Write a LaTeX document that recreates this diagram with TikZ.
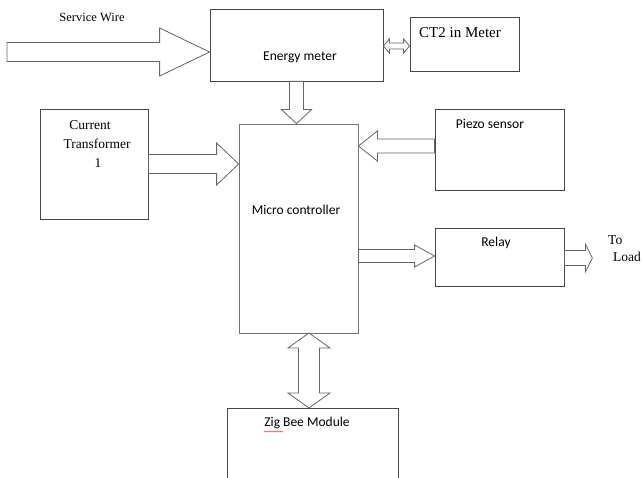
\documentclass[tikz,border=0pt]{standalone}
\usepackage{fontspec}
\setmainfont{Liberation Serif}
\newfontfamily\calib{Carlito}
\usetikzlibrary{calc,decorations.pathmorphing}
\tikzset{
  box/.style={draw=black!72, line width=0.8bp, inner sep=0pt},
  barrow/.style={draw=black!60, line width=0.8bp, fill=white, line join=miter},
  serif/.style={font=\fontsize{13.5bp}{19bp}\selectfont, inner sep=0pt, align=center},
  sans/.style={font=\calib\fontsize{13.5bp}{16bp}\selectfont, inner sep=0pt},
}
% single block arrow, horizontal: tail, tip, half shaft, half head, signed head length
\newcommand\harrow[5]{%
  \draw[barrow] ($(#1)+(0,#3)$) -- ($(#2)+({-(#5)},#3)$) -- ($(#2)+({-(#5)},#4)$) -- (#2)
    -- ($(#2)+({-(#5)},{-(#4)})$) -- ($(#2)+({-(#5)},{-(#3)})$) -- ($(#1)+(0,{-(#3)})$) -- cycle;}
% single block arrow, vertical
\newcommand\varrow[5]{%
  \draw[barrow] ($(#1)+(#3,0)$) -- ($(#2)+(#3,{-(#5)})$) -- ($(#2)+(#4,{-(#5)})$) -- (#2)
    -- ($(#2)+({-(#4)},{-(#5)})$) -- ($(#2)+({-(#3)},{-(#5)})$) -- ($(#1)+({-(#3)},0)$) -- cycle;}
% double block arrow, horizontal: left tip, right tip
\newcommand\hdarrow[5]{%
  \draw[barrow] (#1) -- ($(#1)+(#5,{-(#4)})$) -- ($(#1)+(#5,{-(#3)})$) -- ($(#2)+({-(#5)},{-(#3)})$)
    -- ($(#2)+({-(#5)},{-(#4)})$) -- (#2) -- ($(#2)+({-(#5)},#4)$) -- ($(#2)+({-(#5)},#3)$)
    -- ($(#1)+(#5,#3)$) -- ($(#1)+(#5,#4)$) -- cycle;}
% double block arrow, vertical: top tip, bottom tip
\newcommand\vdarrow[5]{%
  \draw[barrow] (#1) -- ($(#1)+({-(#4)},#5)$) -- ($(#1)+({-(#3)},#5)$) -- ($(#2)+({-(#3)},{-(#5)})$)
    -- ($(#2)+({-(#4)},{-(#5)})$) -- (#2) -- ($(#2)+(#4,{-(#5)})$) -- ($(#2)+(#3,{-(#5)})$)
    -- ($(#1)+(#3,#5)$) -- ($(#1)+(#4,#5)$) -- cycle;}
\begin{document}
\begin{tikzpicture}[x=1bp,y=-1bp]
\clip (0,0) rectangle (642,478);
\fill[white] (0,0) rectangle (642,478);

% boxes
\node[box, minimum width=173bp, minimum height=72bp] (em) at (296.5,45) {};
\node[box, minimum width=109bp, minimum height=54bp] (ct2) at (464.5,44) {};
\node[box, minimum width=108bp, minimum height=110bp] (ct1) at (94,164) {};
\node[box, draw=black!55, minimum width=119bp, minimum height=209bp] (mc) at (298.5,228.5) {};
\node[box, minimum width=129bp, minimum height=81bp] (pz) at (499.5,149.5) {};
\node[box, minimum width=129bp, minimum height=58bp] (rl) at (499.5,257) {};
\node[box, minimum width=171bp, minimum height=100bp] (zb) at (312.5,458) {};

% texts
\node[serif, font=\fontsize{12.5bp}{15bp}\selectfont] (swt) at (92,17) {Service Wire};
\node[sans] (emt) at (300,57) {Energy meter};
\node[serif, font=\fontsize{15bp}{18bp}\selectfont, anchor=west] (ct2t) at (419,33) {CT2 in Meter};
\node[serif] (ct1a) at (90,125) {Current};
\node[serif] (ct1b) at (97,144) {Transformer};
\node[serif] (ct1c) at (98,163) {1};
\node[sans] (mct) at (296,210) {Micro controller};
\node[sans] (pzt) at (490,124) {Piezo sensor};
\node[sans] (rlt) at (496,243) {Relay};
\node[serif, anchor=west] (tot) at (608,240) {To};
\node[serif, anchor=west] (ldt) at (613,257) {Load};
\node[sans] (zbt) at (307,423) {Zig Bee Module};
\draw[red!80, line width=0.5bp, decorate, decoration={snake, amplitude=0.6bp, segment length=2.5bp}]
  ($(zbt.south west)+(0,2.5)$) -- ++(19,0);

% connectors
\coordinate (swtail) at (7,52);
\coordinate (swtip) at ($(em.west)+(0,7)$);
\harrow{swtail}{swtip}{9.5}{24}{50}

\coordinate (emtip) at (em.south |- mc.north);
\varrow{em.south}{emtip}{7}{15}{14}

\harrow{ct1.east}{mc.west |- ct1.east}{9.5}{21}{22}

\coordinate (pztail) at ($(pz.west)+(0,-3.5)$);
\coordinate (pztip) at (mc.east |- pztail);
\harrow{pztail}{pztip}{7}{15}{-19}

\coordinate (rltip) at ($(rl.west)+(0,-1)$);
\coordinate (rltail) at (mc.east |- rltip);
\harrow{rltail}{rltip}{6.5}{11}{20}

\coordinate (ldtail) at ($(rl.east)+(0,1)$);
\coordinate (ldtip) at ($(ldtail)+(28,0)$);
\harrow{ldtail}{ldtip}{7.5}{14}{7}

\coordinate (cta) at (em.east |- 0,46);
\coordinate (ctb) at (ct2.west |- 0,46);
\hdarrow{cta}{ctb}{3}{7}{6}

\coordinate (zba) at (309,333);
\coordinate (zbb) at (309,408);
\vdarrow{zba}{zbb}{10.5}{21}{15}
\end{tikzpicture}
\end{document}
